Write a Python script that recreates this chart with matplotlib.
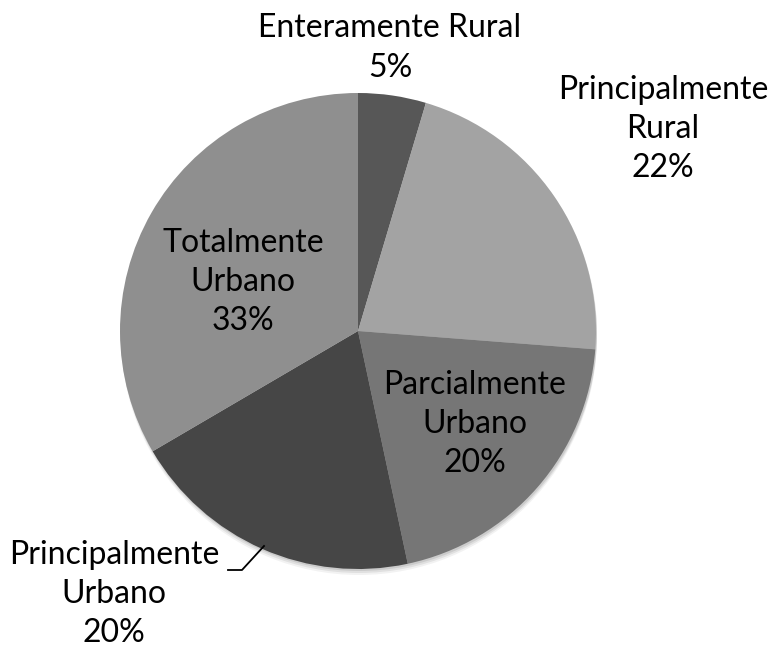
import matplotlib.pyplot as plt
from matplotlib.patches import Circle

categories = ['Enteramente Rural', 'Principalmente\nRural', 'Parcialmente\nUrbano',
              'Principalmente\nUrbano', 'Totalmente\nUrbano']
values = [4.6, 21.6, 20.4, 19.9, 33.4]      # slice sizes
pct_labels = [5, 22, 20, 20, 33]             # percentages as printed
colors = ['#575757', '#a3a3a3', '#767676', '#464646', '#8f8f8f']

# label block centres in pixels (x, y from top)
label_pos = [(390, 48), (663, 129), (475, 424), (114, 594), (243, 282)]

W, H = 771, 651
fig = plt.figure(figsize=(W / 100, H / 100), dpi=100)
ax = fig.add_axes([0, 0, 1, 1])

cx, cy, r = 358, H - 331, 238

# soft shadow under the pie
for k, a in zip([6, 4, 2], [0.05, 0.07, 0.09]):
    ax.add_patch(Circle((cx + 1, cy - k), r, color='black', alpha=a, lw=0, zorder=0))

ax.pie(values, colors=colors, startangle=90, counterclock=False,
       center=(cx, cy), radius=r, frame=True,
       wedgeprops=dict(linewidth=0))
ax.set_xlim(0, W)
ax.set_ylim(0, H)
ax.set_aspect('equal')
ax.axis('off')

for name, p, (x, y) in zip(categories, pct_labels, label_pos):
    ax.text(x, H - y, f'{name}\n{p}%', ha='center', va='center',
            fontsize=23, family=['Lato', 'DejaVu Sans'], color='black',
            linespacing=1.38)

# leader line for Principalmente Urbano
ax.plot([228, 242, 264], [H - 570, H - 570, H - 546], color='black', lw=1.3)

fig.savefig('out.png', dpi=100)
